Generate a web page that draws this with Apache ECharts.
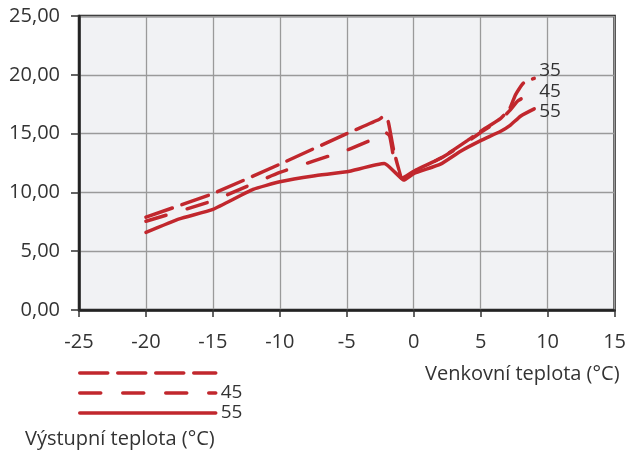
<!DOCTYPE html>
<html>
<head>
<meta charset="utf-8">
<script src="https://cdn.jsdelivr.net/npm/echarts@6/dist/echarts.min.js"></script>
<style>
  html, body { margin: 0; padding: 0; background: #fff; }
  #main { width: 629px; height: 455px; }
</style>
</head>
<body>
<div id="main"></div>
<script>
// venkovní teplota (°C) -> hodnota
const x35 = [-20, -15, -10, -5, -2.6, -2.2, -1.9, -1.5, -0.8, 0, 2, 4, 5, 6.5, 7.2, 7.6, 8.2, 9];
const y35 = [7.9, 9.9, 12.4, 15.0, 16.2, 16.5, 16.0, 13.6, 11.1, 11.8, 12.9, 14.4, 15.2, 16.3, 17.2, 18.3, 19.3, 19.7];
const x45 = [-20, -15, -10, -5, -2.7, -2.2, -1.8, -1.5, -0.9, 0, 2, 4, 5, 6.5, 7.2, 7.8, 9];
const y45 = [7.55, 9.3, 11.7, 13.6, 14.7, 15.15, 14.8, 13.0, 11.2, 11.8, 12.9, 14.3, 15.1, 16.2, 17.0, 17.8, 18.55];
const x55 = [-20, -17.5, -15, -12, -10, -7.5, -5, -2.2, -1.3, -0.75, 0, 2, 3.5, 5, 6.5, 7.2, 8, 9];
const y55 = [6.6, 7.75, 8.55, 10.25, 10.9, 11.4, 11.75, 12.45, 11.6, 11.05, 11.6, 12.4, 13.5, 14.4, 15.2, 15.7, 16.5, 17.1];

const seriesNames = ["35", "45", "55"];
const xAxisName = "Venkovní teplota (°C)";
const legendTitle = "Výstupní teplota (°C)";

const red = "#c1272d";
const font = "'Open Sans', 'Noto Sans', sans-serif";
const fs = 20;

function pairs(xs, ys) {
  return xs.map((x, i) => [x, ys[i]]);
}

const chart = echarts.init(document.getElementById("main"));

function lineSeries(name, data, dash, labelOffset) {
  return {
    name: name,
    type: "line",
    data: data,
    symbol: "none",
    showSymbol: false,
    smooth: 0.15,
    lineStyle: { color: red, width: 3.5, type: dash, cap: "round" },
    itemStyle: { color: red },
    endLabel: {
      show: true,
      formatter: "{a}",
      color: "#333",
      fontSize: 19,
      fontFamily: font,
      distance: 5,
      offset: labelOffset,
    },
  };
}

chart.setOption({
  animation: false,
  backgroundColor: "#fff",
  textStyle: { fontFamily: font },
  title: {
    text: legendTitle,
    left: 20,
    top: 424,
    textStyle: { fontSize: fs, fontWeight: "normal", color: "#333", fontFamily: font },
  },
  legend: {
    orient: "vertical",
    left: 73,
    top: 358,
    itemWidth: 136,
    itemHeight: 14,
    itemGap: 0,
    data: seriesNames,
    itemStyle: { opacity: 0 },
    lineStyle: { width: 3.5 },
    formatter: function (name) {
      // v originále je u první čáry popisek vynechán
      return name === "35" ? "" : name;
    },
    textStyle: { fontSize: 19, color: "#333", lineHeight: 20, height: 20, fontFamily: font },
  },
  grid: {
    left: 79,
    right: 10,
    top: 16,
    bottom: 145,
    show: true,
    backgroundColor: "#f1f2f4",
    borderColor: "#222",
    borderWidth: 2.5,
  },
  xAxis: {
    type: "value",
    min: -25,
    max: 15,
    interval: 5,
    name: xAxisName,
    nameLocation: "end",
    nameGap: 5,
    nameTextStyle: {
      fontSize: fs,
      color: "#333",
      align: "right",
      verticalAlign: "top",
      padding: [54, 0, 0, 0],
      fontFamily: font,
    },
    axisLine: { show: true, onZero: false, lineStyle: { color: "#222", width: 2.5 } },
    axisTick: { show: true, length: 7, lineStyle: { color: "#333", width: 1.5 } },
    axisLabel: { fontSize: fs, color: "#333", margin: 22, fontFamily: font },
    splitLine: { show: true, lineStyle: { color: "#9a9a9a", width: 1.3 } },
  },
  yAxis: {
    type: "value",
    min: 0,
    max: 25,
    interval: 5,
    axisLine: { show: true, onZero: false, lineStyle: { color: "#222", width: 2.5 } },
    axisTick: { show: true, length: 8, lineStyle: { color: "#333", width: 1.5 } },
    axisLabel: {
      fontSize: fs,
      color: "#333",
      margin: 19,
      fontFamily: font,
      formatter: (v) => v.toFixed(2).replace(".", ","),
    },
    splitLine: { show: true, lineStyle: { color: "#9a9a9a", width: 1.3 } },
  },
  series: [
    lineSeries("35", pairs(x35, y35), [28, 10], [0, -8]),
    lineSeries("45", pairs(x45, y45), [21, 22], [0, 0]),
    lineSeries("55", pairs(x55, y55), "solid", [0, 3]),
  ],
});
</script>
</body>
</html>
